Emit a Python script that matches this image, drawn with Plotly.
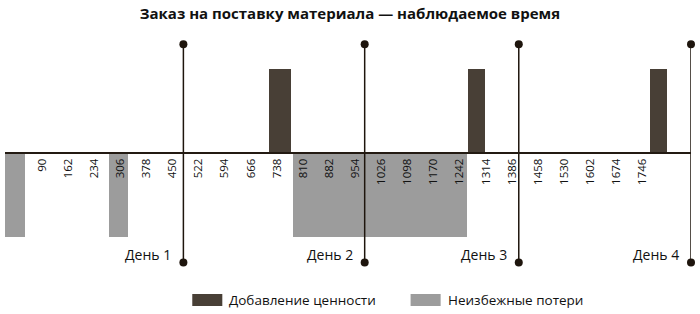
import plotly.graph_objects as go

# ---- data (minutes) ----
tick_vals = [90, 162, 234, 306, 378, 450, 522, 594, 666, 738, 810, 882, 954,
             1026, 1098, 1170, 1242, 1314, 1386, 1458, 1530, 1602, 1674, 1746]
tick_text = [str(v) for v in tick_vals]

va_start = [716, 1266, 1767]          # Добавление ценности
va_dur = [62, 47, 47]
loss_start = [-12, 275, 781]          # Неизбежные потери
loss_dur = [55, 53, 482]

day_pos = [480, 980, 1405, 1880]
day_labels = ["День 1", "День 2", "День 3", "День 4"]

DARK = "#483f36"
GRAY = "#9c9c9c"
LINE = "#1e150d"
FONT = "Open Sans"

fig = go.Figure()

fig.add_trace(go.Bar(
    x=[s + d / 2 for s, d in zip(va_start, va_dur)], y=[1] * len(va_start),
    width=va_dur, marker=dict(color=DARK, line=dict(width=0)),
    name="Добавление ценности", showlegend=False))
fig.add_trace(go.Bar(
    x=[s + d / 2 for s, d in zip(loss_start, loss_dur)], y=[-1] * len(loss_start),
    width=loss_dur, marker=dict(color=GRAY, line=dict(width=0)),
    name="Неизбежные потери", showlegend=False))

for d, lab in zip(day_pos, day_labels):
    fig.add_trace(go.Scatter(
        x=[d, d], y=[-1.31, 1.3], mode="lines+markers",
        line=dict(color=LINE, width=1.5),
        marker=dict(color=LINE, size=8), cliponaxis=False,
        showlegend=False, hoverinfo="skip"))
    fig.add_annotation(x=d, y=-1.21, xref="x", yref="y", text=lab,
                       showarrow=False, xanchor="right", xshift=-10,
                       font=dict(family=FONT, size=14, color="#111"))

# custom legend
legend_items = [("Добавление ценности", DARK, 192), ("Неизбежные потери", GRAY, 410)]
for name, col, px in legend_items:
    fig.add_shape(type="rect", xref="paper", yref="paper",
                  x0=(px - 5) / 685, x1=(px + 25) / 685,
                  y0=(270 - 306) / 230, y1=(270 - 294) / 230,
                  fillcolor=col, line=dict(width=0))
    fig.add_annotation(xref="paper", yref="paper", x=(px + 30) / 685,
                       y=(270 - 300) / 230, text=name, showarrow=False,
                       xanchor="left", yanchor="middle",
                       font=dict(family=FONT, size=13.5, color="#111"))

fig.update_layout(
    width=700, height=314,
    margin=dict(l=5, r=9, t=40, b=44),
    paper_bgcolor="white", plot_bgcolor="white",
    barmode="overlay", bargap=0,
    title=dict(text="<b>Заказ на поставку материала — наблюдаемое время</b>",
               x=0.5, xanchor="center", y=0.955, yanchor="middle",
               font=dict(family=FONT, size=15, color="#111")),
    xaxis=dict(range=[-12, 1880], anchor="free", position=(270 - 153) / 230,
               showline=True, linecolor="#231a12", linewidth=2,
               showgrid=False, zeroline=False, ticks="",
               tickvals=tick_vals, ticktext=tick_text, tickangle=-90,
               tickfont=dict(family=FONT, size=11.5, color="#111")),
    yaxis=dict(range=[-1.4, 1.35], visible=False, showgrid=False, zeroline=False),
)

fig.write_html("out.html")
